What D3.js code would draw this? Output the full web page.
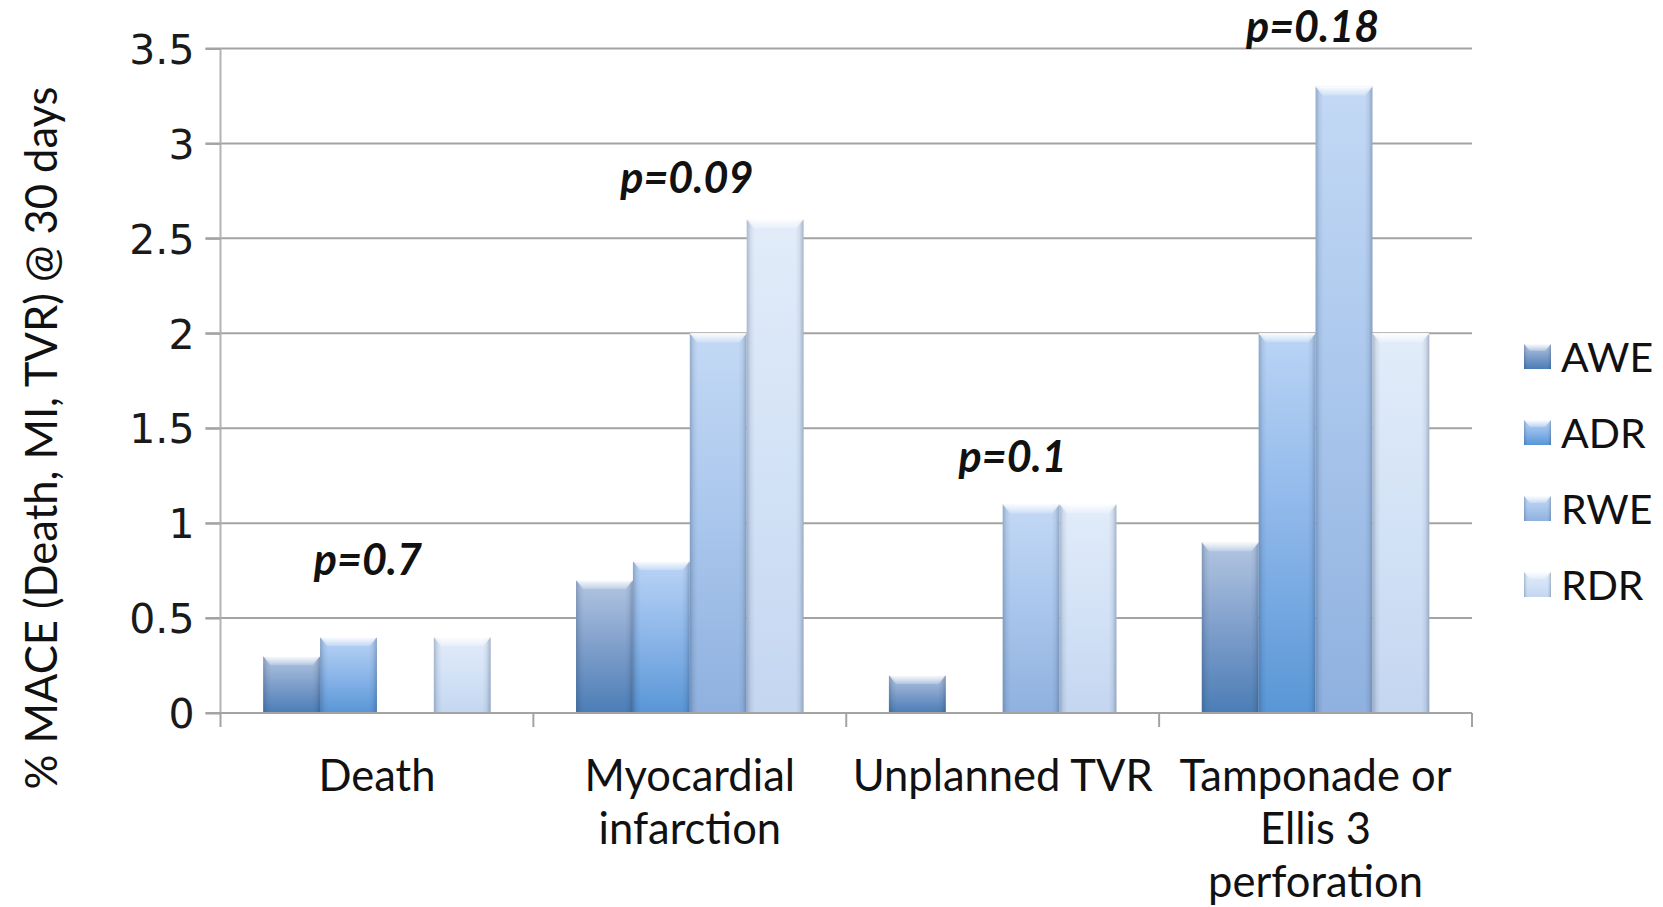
<!DOCTYPE html>
<html>
<head>
<meta charset="utf-8">
<script src="https://cdn.jsdelivr.net/npm/d3@7"></script>
<style>
  html, body { margin: 0; padding: 0; background: #fff; }
  svg { display: block; }
</style>
</head>
<body>
<svg id="chart" width="1663" height="907"></svg>
<script>
// 30-day MACE by endpoint and access/device group
const categories = ["Death", "Myocardial infarction", "Unplanned TVR", "Tamponade or Ellis 3 perforation"];
const categoryLines = [["Death"], ["Myocardial", "infarction"], ["Unplanned TVR"], ["Tamponade or", "Ellis 3", "perforation"]];
const seriesNames = ["AWE", "ADR", "RWE", "RDR"];
const aweValues = [0.3, 0.7, 0.2, 0.9];
const adrValues = [0.4, 0.8, 0.0, 2.0];
const rweValues = [0.0, 2.0, 1.1, 3.3];
const rdrValues = [0.4, 2.6, 1.1, 2.0];
const pLabels = ["p=0.7", "p=0.09", "p=0.1", "p=0.18"];
const yTickValues = [0, 0.5, 1, 1.5, 2, 2.5, 3, 3.5];
const yTitle = "% MACE (Death, MI, TVR) @ 30 days";

const seriesValues = [aweValues, adrValues, rweValues, rdrValues];

// fill gradients per series: [top, middle, bottom]
const seriesColors = [
  ["#b3c6e2", "#7f9fcb", "#4b7db6"],
  ["#bad4f5", "#8cb6e9", "#5896d6"],
  ["#c3d9f5", "#a9c6ec", "#8fb1df"],
  ["#e2ecf9", "#d3e2f6", "#c4d6f0"]
];

const svg = d3.select("#chart");
const defs = svg.append("defs");

const plot = { left: 220.5, right: 1472, top: 48.5, bottom: 713 };

const x = d3.scaleBand().domain(categories).range([plot.left, plot.right]).padding(0);
const xInner = d3.scaleBand().domain(seriesNames).range([0, x.bandwidth()])
  .paddingInner(0).paddingOuter(0.75);
const y = d3.scaleLinear().domain([0, 3.5]).range([plot.bottom, plot.top]);

// gradients
seriesColors.forEach((c, i) => {
  const g = defs.append("linearGradient").attr("id", "fill" + i)
    .attr("x1", 0).attr("y1", 0).attr("x2", 0).attr("y2", 1);
  g.append("stop").attr("offset", "0%").attr("stop-color", c[0]);
  g.append("stop").attr("offset", "50%").attr("stop-color", c[1]);
  g.append("stop").attr("offset", "100%").attr("stop-color", c[2]);
});
const edge = defs.append("linearGradient").attr("id", "edge")
  .attr("x1", 0).attr("y1", 0).attr("x2", 1).attr("y2", 0);
[[0, 0.28], [0.07, 0.08], [0.14, 0], [0.86, 0], [0.93, 0.08], [1, 0.3]].forEach(([o, a]) => {
  edge.append("stop").attr("offset", o * 100 + "%").attr("stop-color", "#1d3557").attr("stop-opacity", a);
});
const bevel = defs.append("linearGradient").attr("id", "bevel")
  .attr("x1", 0).attr("y1", 0).attr("x2", 0).attr("y2", 1);
bevel.append("stop").attr("offset", "0%").attr("stop-color", "#ffffff").attr("stop-opacity", 0.95);
bevel.append("stop").attr("offset", "100%").attr("stop-color", "#ffffff").attr("stop-opacity", 0.2);

// horizontal gridlines
svg.append("g").selectAll("line").data(yTickValues.filter(v => v > 0)).join("line")
  .attr("x1", plot.left - 15).attr("x2", plot.right)
  .attr("y1", d => y(d)).attr("y2", d => y(d))
  .attr("stroke", "#a3a3a3").attr("stroke-width", 2);

// y axis
const yAxis = svg.append("g").attr("transform", `translate(${plot.left},0)`)
  .call(d3.axisLeft(y).tickValues(yTickValues).tickSize(15).tickPadding(11).tickFormat(d3.format("")));
yAxis.select(".domain").attr("stroke", "#b3b3b3").attr("stroke-width", 2)
  .attr("d", `M0,${plot.top}V${plot.bottom}`);
yAxis.selectAll(".tick line").attr("stroke", "#a3a3a3").attr("stroke-width", 2);
yAxis.selectAll(".tick text").attr("font-family", "DejaVu Sans, Verdana, sans-serif")
  .attr("font-size", 41).attr("fill", "#1a1a1a").attr("dy", "0.36em");

// bars
const barGroups = svg.append("g").selectAll("g").data(categories).join("g")
  .attr("transform", d => `translate(${x(d)},0)`);

barGroups.each(function (cat, ci) {
  const g = d3.select(this);
  seriesNames.forEach((s, si) => {
    const v = seriesValues[si][ci];
    if (!v) return;
    const bx = xInner(s), bw = xInner.bandwidth();
    const by = y(v), bh = y(0) - y(v);
    g.append("rect").attr("x", bx).attr("y", by).attr("width", bw).attr("height", bh)
      .attr("fill", `url(#fill${si})`);
    g.append("rect").attr("x", bx).attr("y", by).attr("width", bw).attr("height", bh)
      .attr("fill", "url(#edge)");
    const bv = Math.min(9, bh);
    g.append("path")
      .attr("d", `M${bx},${by}H${bx + bw}L${bx + bw - 7},${by + bv}H${bx + 7}Z`)
      .attr("fill", "url(#bevel)");
    g.append("line").attr("x1", bx).attr("x2", bx + bw).attr("y1", by + 0.5).attr("y2", by + 0.5)
      .attr("stroke", "#ffffff").attr("stroke-opacity", 0.6).attr("stroke-width", 1);
  });
});

// x axis
const xAxisG = svg.append("g");
xAxisG.append("line").attr("x1", plot.left - 15).attr("x2", plot.right)
  .attr("y1", plot.bottom).attr("y2", plot.bottom)
  .attr("stroke", "#a3a3a3").attr("stroke-width", 2);
const boundaries = categories.map(c => x(c)).concat([x(categories[categories.length - 1]) + x.bandwidth()]);
xAxisG.selectAll("line.tk").data(boundaries).join("line").attr("class", "tk")
  .attr("x1", d => d).attr("x2", d => d).attr("y1", plot.bottom).attr("y2", plot.bottom + 14)
  .attr("stroke", "#a3a3a3").attr("stroke-width", 2);

// category labels
const labelFont = "Lato, 'Open Sans', sans-serif";
svg.append("g").selectAll("text").data(categories).join("text")
  .attr("x", d => x(d) + x.bandwidth() / 2)
  .attr("y", 791)
  .attr("text-anchor", "middle")
  .attr("font-family", labelFont).attr("font-size", 43.5).attr("fill", "#111")
  .each(function (d, i) {
    const t = d3.select(this);
    categoryLines[i].forEach((line, li) => {
      t.append("tspan").attr("x", x(d) + x.bandwidth() / 2).attr("dy", li === 0 ? 0 : 53).text(line);
    });
  });

// p-value annotations above each group
const pNudgeX = [-9, -3, 10, -3];
const pGap = [62, 26, 32, 44];
svg.append("g").selectAll("text").data(pLabels).join("text")
  .attr("x", (d, i) => x(categories[i]) + x.bandwidth() / 2 + pNudgeX[i])
  .attr("y", (d, i) => y(d3.max(seriesValues, s => s[i])) - pGap[i])
  .attr("text-anchor", "middle")
  .attr("font-family", labelFont).attr("font-weight", 700).attr("font-style", "italic")
  .attr("font-size", 43).attr("fill", "#111")
  .text(d => d);

// y axis title
svg.append("text")
  .attr("transform", `translate(57,438) rotate(-90)`)
  .attr("text-anchor", "middle")
  .attr("font-family", labelFont).attr("font-size", 43.5).attr("fill", "#111")
  .text(yTitle);

// legend
const legend = svg.append("g").selectAll("g").data(seriesNames).join("g")
  .attr("transform", (d, i) => `translate(1524,${357 + i * 76})`);
legend.append("rect").attr("x", 0).attr("y", -13).attr("width", 27).attr("height", 25)
  .attr("fill", (d, i) => `url(#fill${i})`);
legend.append("rect").attr("x", 0).attr("y", -13).attr("width", 27).attr("height", 25)
  .attr("fill", "url(#edge)");
legend.append("path").attr("d", "M0,-13H27L21,-6H6Z").attr("fill", "url(#bevel)");
legend.append("text").attr("x", 37).attr("y", 0).attr("dy", "0.36em")
  .attr("font-family", labelFont).attr("font-size", 41).attr("fill", "#111")
  .text(d => d);
</script>
</body>
</html>
